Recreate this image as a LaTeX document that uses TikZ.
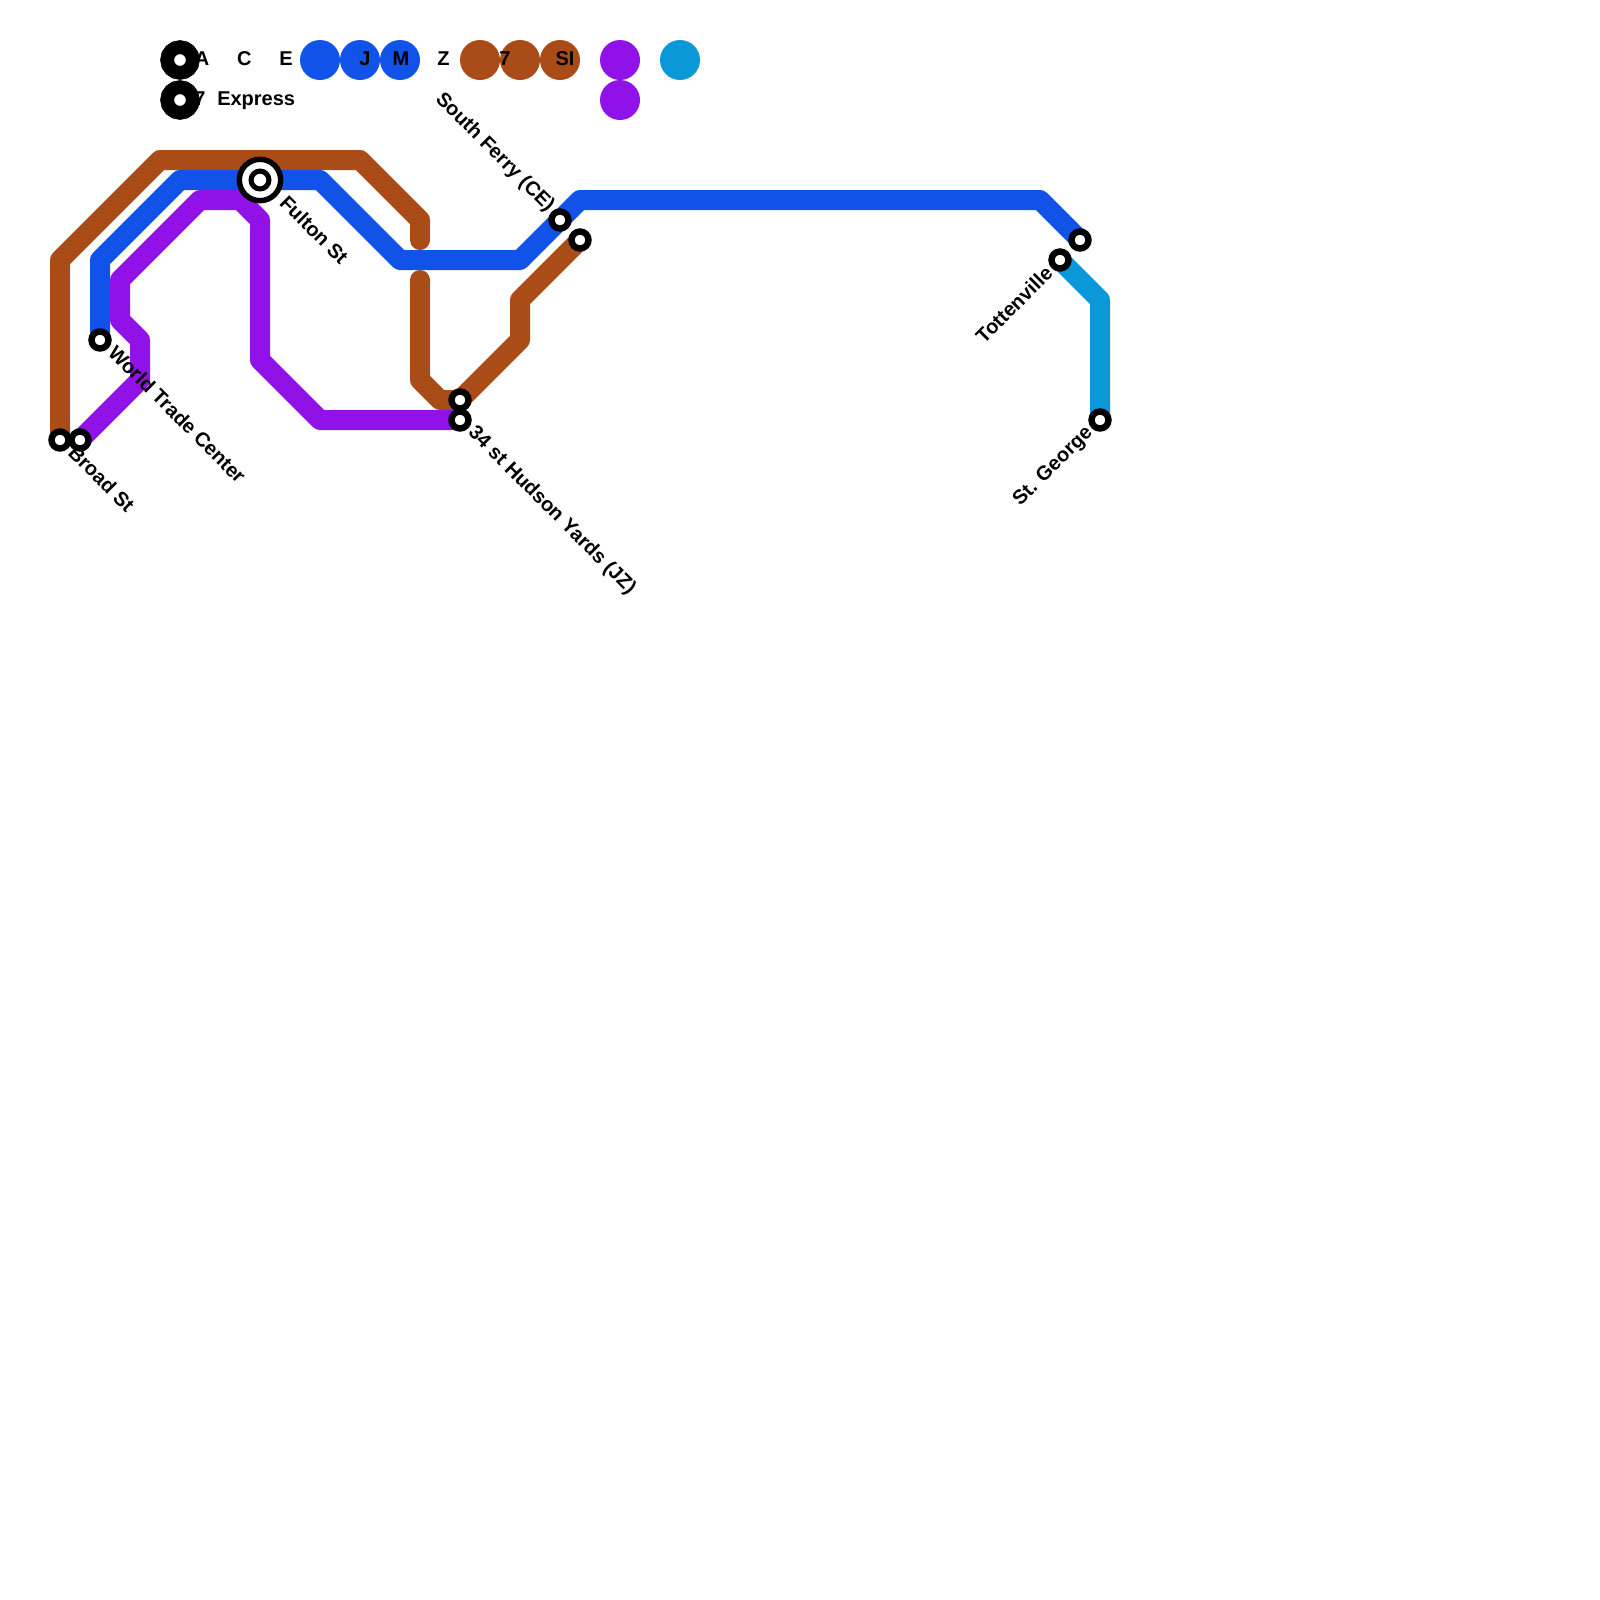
\documentclass[tikz,border=0pt]{standalone}
\usepackage{fontspec}
\setmainfont{Liberation Sans}
\definecolor{lineBrown}{HTML}{aa4c18}
\definecolor{lineBlue}{HTML}{1152e8}
\definecolor{linePurple}{HTML}{9012e8}
\definecolor{lineCyan}{HTML}{0a98d8}
\tikzset{
  route/.style={line width=15pt, line cap=round, line join=round},
  station/.style={circle, draw=black, fill=white, line width=4.8pt, inner sep=0pt,
              outer sep=0pt, minimum size=12.75pt},
  hub/.style={circle, draw=black, fill=white, line width=4.1pt, inner sep=0pt,
              outer sep=0pt, minimum size=31pt},
  keydot/.style={circle, draw=black, fill=white, line width=10.3pt, inner sep=0pt,
              outer sep=0pt, minimum size=19.3pt},
  swatch/.style={circle, inner sep=0pt, outer sep=0pt, minimum size=30pt},
  key/.style={font=\fontsize{15pt}{18pt}\selectfont\bfseries, anchor=base, inner sep=0pt},
  lbl/.style={font=\fontsize{15pt}{18pt}\selectfont\bfseries, inner sep=0pt, rotate=-45},
  lblup/.style={font=\fontsize{15pt}{18pt}\selectfont\bfseries, inner sep=0pt, rotate=45},
}
\begin{document}
\begin{tikzpicture}[x=15pt,y=-15pt]
  \useasboundingbox (0,0) rectangle (80,80);
  % stations go in first so the routes can use their names
  \path (3,22) coordinate (broadW) (4,22) coordinate (broadE) (5,17) coordinate (wtc)
    (13,9) coordinate (fulton) (23,20) coordinate (hudsonN) (23,21) coordinate (hudsonS)
    (28,11) coordinate (ferryW) (29,12) coordinate (ferryE) (54,12) coordinate (ferryEnd)
    (53,13) coordinate (totten) (55,21) coordinate (george);
  % brown, in two pieces either side of the blue
  \draw[route,lineBrown] (broadW) -- (3,13) -- (8,8) -- (18,8) -- (21,11) -- (21,12);
  \draw[route,lineBrown] (21,14) -- (21,19) -- (22,20) -- (hudsonN) -- (26,17) -- (26,15) -- (ferryE);
  % blue
  \draw[route,lineBlue] (wtc) -- (5,13) -- (9,9) -- (16,9) -- (20,13) -- (26,13) -- (29,10) -- (52,10) -- (ferryEnd);
  % purple
  \draw[route,linePurple] (broadE) -- (7,19) -- (7,17) -- (6,16) -- (6,14) -- (10,10) -- (12,10)
    -- (13,11) -- (13,18) -- (16,21) -- (hudsonS);
  % cyan
  \draw[route,lineCyan] (totten) -- (55,15) -- (george);
  % legend swatches
  \foreach \i/\x in {0/16,1/18,2/20}{
    \node[swatch,fill=lineBlue] (blue\i) at (\x,3){};}
  \foreach \i/\x in {0/24,1/26,2/28}{
    \node[swatch,fill=lineBrown] (brown\i) at (\x,3){};}
  \node[swatch,fill=linePurple] (purple0) at (31,3){};
  \node[swatch,fill=linePurple] (purple1) at (31,5){};
  \node[swatch,fill=lineCyan] (cyan0) at (34,3){};
  \node[keydot] (key0) at (9,3){};
  \node[keydot] (key1) at (9,5){};
  % legend letters
  \foreach \t/\x in {A/10.1,C/12.22,E/14.3,J/18.25,M/20.05,Z/22.18,7/25.25,SI/28.25}{
    \node[key] (key\t) at (\x,3.25){\t};}
  \node[key] (key7x) at (10,5.25){7};
  \node[key,anchor=base west] (express) at (10.85,5.25){Express};
  % stations
  \foreach \n in {broadW,broadE,wtc,hudsonN,hudsonS,ferryW,ferryE,ferryEnd,totten,george}{
    \node[station] (st\n) at (\n){};}
  \node[hub] (fultonRing) at (fulton){};
  \node[station,line width=3.8pt,minimum size=13.4pt] (stfulton) at (fulton){};
  % station names
  \node[lbl,anchor=west] (nameBroad) at (3.6,22.45){Broad St};
  \node[lbl,anchor=west] (nameWtc) at (5.6,17.45){World Trade Center};
  \node[lbl,anchor=west] (nameFulton) at (14.17,9.95){Fulton St};
  \node[lbl,anchor=west] (nameHudson) at (23.55,21.5){34 st Hudson Yards (JZ)};
  \node[lbl,anchor=east] (nameFerry) at (27.55,10.45){South Ferry (CE)};
  \node[lblup,anchor=east] (nameTotten) at (52.45,13.48){Tottenville};
  \node[lblup,anchor=east] (nameGeorge) at (54.5,21.5){St. George};
\end{tikzpicture}
\end{document}
